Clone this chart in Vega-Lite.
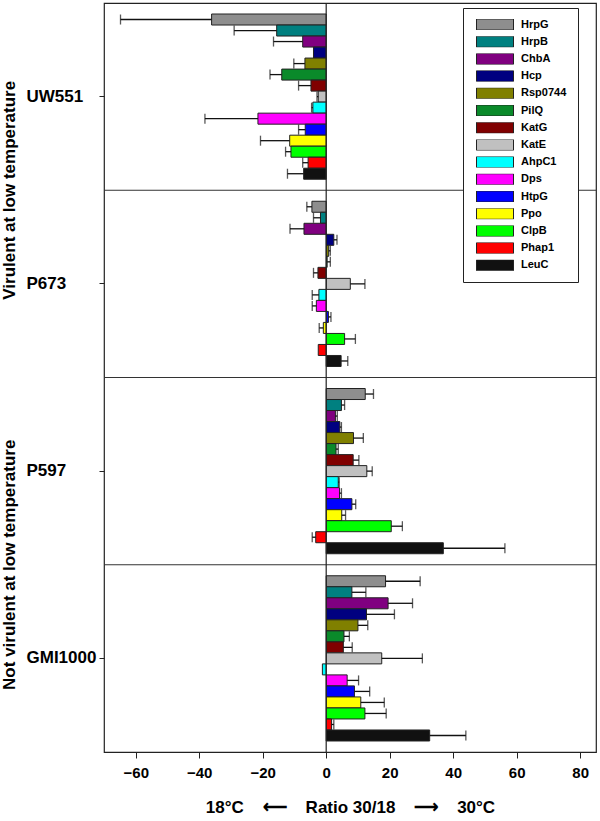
{
  "$schema": "https://vega.github.io/schema/vega-lite/v6.json",
  "width": 492,
  "height": 749,
  "autosize": "none",
  "padding": {"left": 104, "top": 3, "right": 4, "bottom": 69},
  "background": "white",
  "config": {
    "font": "Liberation Sans",
    "view": {"stroke": "#222", "strokeWidth": 1.2},
    "axis": {"labelColor": "black", "tickColor": "#222", "titleColor": "black", "grid": false}
  },
  "datasets": {
    "bars": [
      {"strain": "UW551", "protein": "HrpG", "ratio": -36.1, "errEnd": -64.8},
      {"strain": "UW551", "protein": "HrpB", "ratio": -15.6, "errEnd": -29.0},
      {"strain": "UW551", "protein": "ChbA", "ratio": -7.4, "errEnd": -16.6},
      {"strain": "UW551", "protein": "Hcp", "ratio": -4.0, "errEnd": null},
      {"strain": "UW551", "protein": "Rsp0744", "ratio": -6.7, "errEnd": -10.2},
      {"strain": "UW551", "protein": "PilQ", "ratio": -14.0, "errEnd": -17.7},
      {"strain": "UW551", "protein": "KatG", "ratio": -4.8, "errEnd": -8.7},
      {"strain": "UW551", "protein": "KatE", "ratio": -2.5, "errEnd": -2.9},
      {"strain": "UW551", "protein": "AhpC1", "ratio": -4.2, "errEnd": -4.6},
      {"strain": "UW551", "protein": "Dps", "ratio": -21.5, "errEnd": -38.2},
      {"strain": "UW551", "protein": "HtpG", "ratio": -6.6, "errEnd": -8.7},
      {"strain": "UW551", "protein": "Ppo", "ratio": -11.5, "errEnd": -20.7},
      {"strain": "UW551", "protein": "ClpB", "ratio": -11.1, "errEnd": -12.8},
      {"strain": "UW551", "protein": "Phap1", "ratio": -5.7, "errEnd": -7.4},
      {"strain": "UW551", "protein": "LeuC", "ratio": -7.1, "errEnd": -12.2},
      {"strain": "P673", "protein": "HrpG", "ratio": -4.5, "errEnd": -6.1},
      {"strain": "P673", "protein": "HrpB", "ratio": -1.8, "errEnd": -4.0},
      {"strain": "P673", "protein": "ChbA", "ratio": -7.0, "errEnd": -11.4},
      {"strain": "P673", "protein": "Hcp", "ratio": 2.4, "errEnd": 3.4},
      {"strain": "P673", "protein": "Rsp0744", "ratio": 0.8, "errEnd": 1.3},
      {"strain": "P673", "protein": "PilQ", "ratio": 0.3, "errEnd": 1.3},
      {"strain": "P673", "protein": "KatG", "ratio": -2.6, "errEnd": -4.0},
      {"strain": "P673", "protein": "KatE", "ratio": 7.6, "errEnd": 12.2},
      {"strain": "P673", "protein": "AhpC1", "ratio": -2.3, "errEnd": -4.4},
      {"strain": "P673", "protein": "Dps", "ratio": -3.1, "errEnd": -4.4},
      {"strain": "P673", "protein": "HtpG", "ratio": 0.7, "errEnd": 1.5},
      {"strain": "P673", "protein": "Ppo", "ratio": -0.9, "errEnd": -2.2},
      {"strain": "P673", "protein": "ClpB", "ratio": 5.8, "errEnd": 9.2},
      {"strain": "P673", "protein": "Phap1", "ratio": -2.5, "errEnd": null},
      {"strain": "P673", "protein": "LeuC", "ratio": 4.7, "errEnd": 6.8},
      {"strain": "P597", "protein": "HrpG", "ratio": 12.3, "errEnd": 14.9},
      {"strain": "P597", "protein": "HrpB", "ratio": 4.8, "errEnd": 5.8},
      {"strain": "P597", "protein": "ChbA", "ratio": 2.9, "errEnd": 3.5},
      {"strain": "P597", "protein": "Hcp", "ratio": 4.3, "errEnd": 4.8},
      {"strain": "P597", "protein": "Rsp0744", "ratio": 8.6, "errEnd": 11.7},
      {"strain": "P597", "protein": "PilQ", "ratio": 3.1, "errEnd": 3.8},
      {"strain": "P597", "protein": "KatG", "ratio": 8.5, "errEnd": 10.3},
      {"strain": "P597", "protein": "KatE", "ratio": 12.8, "errEnd": 14.5},
      {"strain": "P597", "protein": "AhpC1", "ratio": 3.8, "errEnd": 4.1},
      {"strain": "P597", "protein": "Dps", "ratio": 4.2, "errEnd": 4.8},
      {"strain": "P597", "protein": "HtpG", "ratio": 8.1, "errEnd": 9.3},
      {"strain": "P597", "protein": "Ppo", "ratio": 4.9, "errEnd": 6.1},
      {"strain": "P597", "protein": "ClpB", "ratio": 20.5, "errEnd": 24.0},
      {"strain": "P597", "protein": "Phap1", "ratio": -3.3, "errEnd": -4.4},
      {"strain": "P597", "protein": "LeuC", "ratio": 36.9, "errEnd": 56.3},
      {"strain": "GMI1000", "protein": "HrpG", "ratio": 18.7, "errEnd": 29.6},
      {"strain": "GMI1000", "protein": "HrpB", "ratio": 8.1, "errEnd": 12.5},
      {"strain": "GMI1000", "protein": "ChbA", "ratio": 19.5, "errEnd": 27.2},
      {"strain": "GMI1000", "protein": "Hcp", "ratio": 12.7, "errEnd": 21.5},
      {"strain": "GMI1000", "protein": "Rsp0744", "ratio": 10.0, "errEnd": 13.1},
      {"strain": "GMI1000", "protein": "PilQ", "ratio": 5.6, "errEnd": 7.3},
      {"strain": "GMI1000", "protein": "KatG", "ratio": 5.4, "errEnd": 8.2},
      {"strain": "GMI1000", "protein": "KatE", "ratio": 17.5, "errEnd": 30.3},
      {"strain": "GMI1000", "protein": "AhpC1", "ratio": -1.2, "errEnd": null},
      {"strain": "GMI1000", "protein": "Dps", "ratio": 6.6, "errEnd": 10.2},
      {"strain": "GMI1000", "protein": "HtpG", "ratio": 8.9, "errEnd": 13.7},
      {"strain": "GMI1000", "protein": "Ppo", "ratio": 10.9, "errEnd": 18.3},
      {"strain": "GMI1000", "protein": "ClpB", "ratio": 12.2, "errEnd": 18.9},
      {"strain": "GMI1000", "protein": "Phap1", "ratio": 1.7, "errEnd": 2.4},
      {"strain": "GMI1000", "protein": "LeuC", "ratio": 32.6, "errEnd": 44.0}
    ],
    "seps": [{"strain": "P673"}, {"strain": "P597"}, {"strain": "GMI1000"}],
    "zero": [{"z": 0}],
    "groups": [{"grp": "Virulent at low temperature"}, {"grp": "Not virulent at low temperature"}]
  },
  "layer": [
    {
      "encoding": {
        "x": {
          "field": "ratio", "type": "quantitative",
          "scale": {"domain": [-70, 85], "nice": false, "zero": false},
          "axis": {
            "values": [-60, -40, -20, 0, 20, 40, 60, 80],
            "domain": false, "tickSize": 6, "labelPadding": 7,
            "labelFontSize": 15, "labelFontWeight": "bold",
            "title": "18°C\u00a0\u00a0\u00a0\u00a0⟵\u00a0\u00a0\u00a0\u00a0Ratio 30/18\u00a0\u00a0\u00a0\u00a0⟶\u00a0\u00a0\u00a0\u00a030°C",
            "titleFontSize": 17, "titleFontWeight": "bold", "titlePadding": 19
          }
        },
        "y": {
          "field": "strain", "type": "nominal",
          "scale": {"domain": ["UW551", "P673", "P597", "GMI1000"], "paddingInner": 0, "paddingOuter": 0},
          "axis": {
            "orient": "left", "title": null, "domain": false, "tickSize": 5,
            "labelAlign": "left", "labelPadding": 73, "labelFontSize": 17,
            "labelFontWeight": "bold", "labelBaseline": "middle"
          }
        }
      },
      "layer": [
        {
          "data": {"name": "seps"},
          "mark": {"type": "rule", "color": "#333", "strokeWidth": 1},
          "encoding": {"y": {"field": "strain", "type": "nominal", "bandPosition": 0}, "x": null}
        },
        {
          "data": {"name": "bars"},
          "mark": {"type": "bar", "stroke": "#222", "strokeWidth": 1},
          "encoding": {
            "yOffset": {
              "field": "protein", "type": "nominal",
              "scale": {"domain": ["HrpG", "HrpB", "ChbA", "Hcp", "Rsp0744", "PilQ", "KatG", "KatE", "AhpC1", "Dps", "HtpG", "Ppo", "ClpB", "Phap1", "LeuC"], "paddingInner": 0, "paddingOuter": 1.1}
            },
            "color": {
              "field": "protein", "type": "nominal",
              "scale": {
                "domain": ["HrpG", "HrpB", "ChbA", "Hcp", "Rsp0744", "PilQ", "KatG", "KatE", "AhpC1", "Dps", "HtpG", "Ppo", "ClpB", "Phap1", "LeuC"],
                "range": ["#8e8e8e", "#008080", "#800080", "#000080", "#808000", "#0a8a2a", "#800000", "#c0c0c0", "#00ffff", "#ff00ff", "#0000ff", "#ffff00", "#00ff00", "#ff0000", "#111111"]
              },
              "legend": {
                "orient": "none", "legendX": 359, "legendY": 5, "title": null,
                "symbolType": "M-1,-0.3H1V0.3H-1Z", "symbolSize": 1369,
                "symbolStrokeColor": "#222", "symbolStrokeWidth": 1, "symbolOpacity": 1,
                "labelFontSize": 11, "labelFontWeight": "bold", "labelColor": "black",
                "labelOffset": 7, "clipHeight": 11, "rowPadding": 5.2, "padding": 11,
                "symbolOffset": 2,
                "strokeColor": "#222", "fillColor": "white"
              }
            }
          }
        },
        {
          "data": {"name": "zero"},
          "mark": {"type": "rule", "color": "#222", "strokeWidth": 1.2},
          "encoding": {"x": {"field": "z", "type": "quantitative"}, "y": null}
        },
        {
          "data": {"name": "bars"},
          "transform": [{"filter": "isValid(datum.errEnd)"}],
          "mark": {"type": "rule", "color": "#111", "strokeWidth": 1.3},
          "encoding": {
            "x2": {"field": "errEnd"},
            "yOffset": {"field": "protein", "type": "nominal"}
          }
        },
        {
          "data": {"name": "bars"},
          "transform": [{"filter": "isValid(datum.errEnd)"}],
          "mark": {"type": "tick", "orient": "vertical", "color": "#111", "thickness": 1.3, "size": 10},
          "encoding": {
            "x": {"field": "errEnd", "type": "quantitative"},
            "yOffset": {"field": "protein", "type": "nominal"}
          }
        }
      ]
    },
    {
      "data": {"name": "groups"},
      "mark": {"type": "rule", "opacity": 0},
      "encoding": {
        "y": {
          "field": "grp", "type": "nominal",
          "scale": {"domain": ["Virulent at low temperature", "Not virulent at low temperature"], "paddingInner": 0, "paddingOuter": 0},
          "axis": {
            "orient": "left", "title": null, "domain": false, "ticks": false, "tickSize": 0,
            "labelAngle": 270, "labelAlign": "center", "labelBaseline": "bottom",
            "labelPadding": 86, "labelFontSize": 17, "labelFontWeight": "bold",
            "labelLimit": 400, "labelOverlap": false
          }
        }
      }
    }
  ],
  "resolve": {"scale": {"y": "independent"}}
}
